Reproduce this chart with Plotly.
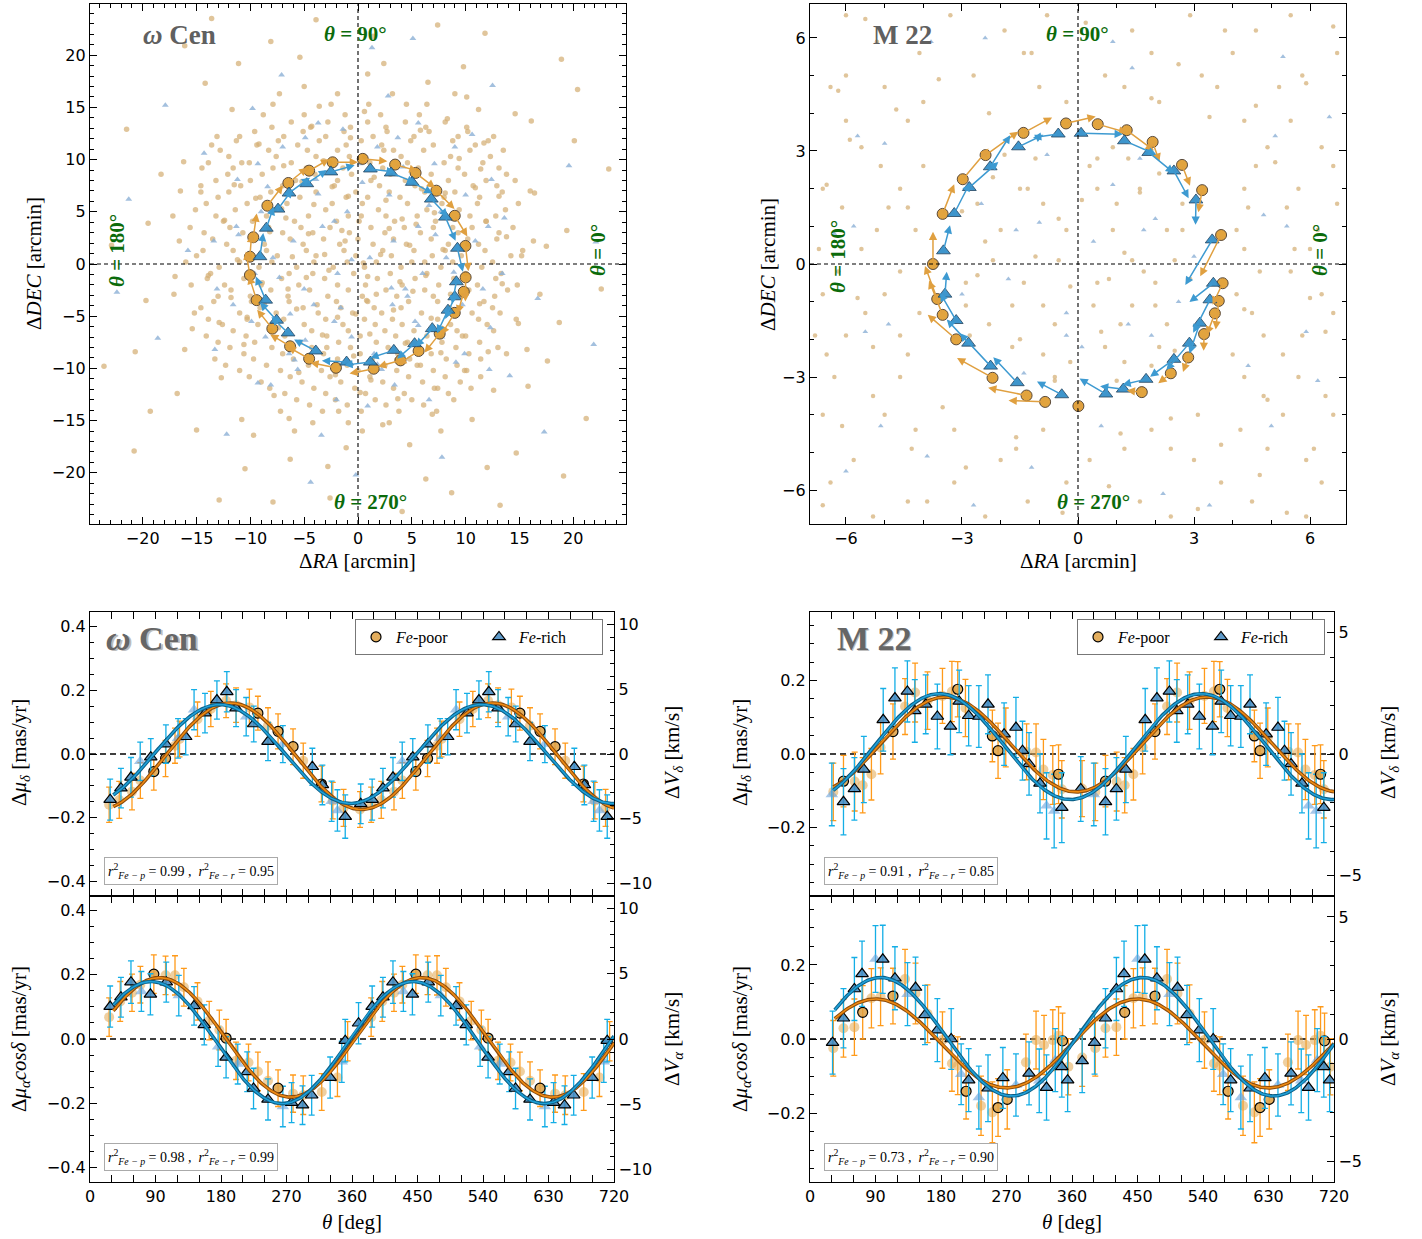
import numpy as np
import plotly.graph_objects as go

W, H = 1422, 1239

# ======================= TOP PANELS: ring bins (arcmin) =======================
wcen_poor_x = [0.44, 3.45, 5.35, 7.28, 8.99, 9.98, 10.0, 9.83, 8.99, 7.59, 5.63, 3.95, 1.46, -2.05, -4.54, -6.31, -7.96, -9.42, -10.04, -10.04, -9.73, -8.42, -6.47, -4.54, -2.36]
wcen_poor_y = [10.07, 9.52, 8.72, 7.02, 4.62, 1.73, -1.28, -2.66, -4.68, -6.67, -8.33, -9.23, -10.03, -9.94, -9.07, -7.88, -6.19, -3.46, -1.06, 0.70, 2.56, 5.58, 7.76, 8.94, 9.74]
wcen_poor_vt = [0.17, 0.16, 0.17, 0.18, 0.17, 0.18, 0.17, 0.16, 0.18, 0.17, 0.17, 0.16, 0.17, 0.18, 0.17, 0.16, 0.17, 0.18, 0.17, 0.16, 0.17, 0.18, 0.17, 0.16, 0.17]
wcen_poor_vr = [-0.01, 0.01, -0.02, 0.0, 0.01, -0.01, 0.02, 0.0, -0.01, 0.01, 0.0, -0.02, 0.01, 0.0, -0.01, 0.02, 0.0, -0.01, 0.01, 0.0, 0.02, -0.01, 0.0, 0.01, -0.04]
wcen_rich_x = [1.15, 3.08, 5.04, 6.81, 8.12, 9.24, 9.14, 8.99, 8.36, 6.9, 5.26, 3.33, 1.15, -1.06, -3.92, -6.5, -7.56, -8.58, -9.11, -8.52, -7.43, -6.41, -4.76, -2.52]
wcen_rich_y = [9.1, 8.72, 7.82, 6.22, 4.49, 1.51, -1.70, -3.14, -4.42, -6.19, -7.63, -8.27, -9.39, -9.39, -8.33, -6.6, -5.38, -3.46, 0.70, 3.43, 5.26, 6.8, 7.69, 8.82]
wcen_rich_vt = [0.17, 0.18, 0.16, 0.17, 0.18, 0.17, 0.16, 0.17, 0.18, 0.17, 0.16, 0.17, 0.18, 0.17, 0.17, 0.16, 0.17, 0.18, 0.17, 0.16, 0.17, 0.18, 0.17, 0.17]
wcen_rich_vr = [0.0, -0.01, 0.01, 0.0, -0.02, 0.01, 0.0, -0.01, 0.01, 0.0, 0.02, -0.01, 0.0, 0.01, -0.01, 0.0, 0.02, 0.0, -0.01, 0.01, 0.0, -0.02, 0.01, 0.0]

m22_poor_x = [-0.31, 0.51, 1.26, 1.93, 2.69, 3.21, 3.70, 3.74, 3.64, 3.54, 3.26, 2.85, 2.40, 1.65, 0.01, -0.85, -1.33, -2.21, -3.15, -3.5, -3.64, -3.75, -3.5, -2.98, -2.39, -1.41]
m22_poor_y = [3.73, 3.71, 3.55, 3.24, 2.63, 1.96, 0.77, -0.51, -0.98, -1.31, -1.86, -2.48, -2.90, -3.40, -3.77, -3.66, -3.49, -3.02, -2.0, -1.35, -0.93, 0.0, 1.33, 2.25, 2.89, 3.48]
m22_poor_vt = [0.13, 0.13, 0.14, 0.07, 0.09, 0.075, 0.16, 0.10, 0.125, 0.10, 0.065, 0.063, 0.07, 0.055, 0.02, 0.155, 0.167, 0.175, 0.158, 0.163, 0.155, 0.143, 0.14, 0.175, 0.175, 0.14]
m22_poor_vr = [0.02, -0.02, -0.045, -0.06, -0.04, -0.065, -0.125, -0.03, 0.02, 0.0, 0.035, 0.025, 0.0, -0.035, 0.0, 0.03, 0.027, 0.02, 0.045, 0.0, 0.015, 0.0, 0.0, -0.007, -0.01, 0.017]
m22_rich_x = [-0.51, 0.08, 1.20, 1.83, 2.48, 3.05, 3.47, 3.50, 3.41, 3.15, 2.88, 2.48, 1.76, 1.17, 0.72, -0.42, -1.57, -2.26, -2.83, -3.15, -3.44, -3.48, -3.2, -2.81, -2.27, -1.54]
m22_rich_y = [3.45, 3.47, 3.27, 2.96, 2.47, 1.70, 0.64, -0.51, -0.95, -1.57, -2.10, -2.53, -3.06, -3.32, -3.45, -3.47, -3.15, -2.71, -2.10, -1.50, -0.80, 0.35, 1.34, 2.03, 2.58, 3.11]
m22_rich_vt = [-0.11, 0.18, 0.15, 0.14, 0.13, 0.095, 0.175, 0.097, 0.16, 0.14, 0.155, 0.127, 0.10, 0.09, 0.097, 0.113, 0.143, 0.195, 0.14, 0.14, 0.095, 0.115, 0.15, 0.165, 0.157, 0.12]
m22_rich_vr = [0.0, 0.0, -0.01, -0.02, -0.04, -0.055, -0.15, -0.09, -0.03, 0.02, -0.01, -0.017, -0.03, -0.045, -0.09, -0.045, -0.055, -0.027, 0.013, 0.01, -0.03, -0.017, -0.01, -0.035, 0.048, 0.0]

ARROW_SCALE_WCEN = 13.5   # arcmin per mas/yr
ARROW_SCALE_M22 = 6.0

# background member stars (approximate positions)
wcen_bg_poor = [(-8.2,3.1),(-6.5,-2.4),(-4.1,5.7),(-3.3,-6.8),(-1.2,2.2),(0.8,-3.5),(2.6,6.1),(3.9,-1.7),(5.4,3.8),(6.8,-5.2),
    (7.9,1.4),(-7.4,-6.1),(-5.2,7.9),(-2.7,-0.6),(1.5,8.3),(4.4,-7.6),(8.6,-2.9),(-0.4,-8.8),(2.1,0.9),(-6.1,0.7),
    (5.9,7.2),(-3.8,-3.9),(0.3,4.6),(7.1,4.9),(-8.9,-1.8),(-1.9,-5.1),(3.3,-4.4),(6.2,0.2),(-4.6,2.9),(1.1,-6.7),
    (-2.4,7.4),(4.8,1.8),(-7.1,5.3),(8.1,6.8),(0.9,-1.2),(-5.7,-4.3),(2.9,3.4),(-0.9,6.5),(5.1,-2.6),(-3.1,0.9),
    (-9.5,6.3),(9.7,-6.9),(-6.9,9.4),(7.7,-8.5),(-2.1,-10.6),(2.4,10.9),(-10.3,-5.1),(10.2,1.9),(-0.2,-4.8),(4.1,4.3),
    (-4.8,-1.3),(1.7,-2.9),(-1.5,3.2),(6.3,-1.1),(-6.7,4.4),(3.6,-9.2),(-3.2,9.9),(8.8,3.5),(-8.7,-3.9),(0.5,0.1),
    (-2.9,-8.0),(5.5,-9.7),(-5.5,-10.4),(9.9,-10.2),(-11.5,7.6),(11.4,9.1),(-12.9,-5.6),(13.1,6.5),(-0.8,10.3),(1.2,-11.1),
    (-12.4,4.2),(11.3,-3.8),(-10.6,-7.7),(9.4,10.1),(-4.3,13.2),(3.7,-12.9),(13.8,2.6),(-13.9,-1.1),(0.6,14.6),(-1.8,-14.1),
    (12.1,-8.4),(-9.2,11.5),(7.4,-11.9),(-14.6,6.9),(14.9,-5.7),(5.8,12.8),(-7.8,-12.6),(10.9,7.3),(-11.8,-3.2),(2.3,-15.4),
    (-3.6,15.1),(15.2,0.8),(-15.4,-6.2),(8.3,13.9),(-10.1,9.7),(12.6,-12.1),(-6.4,-14.8),(4.5,15.3),(11.7,11.6),(-13.1,12.2),
    (13.4,-1.9),(-12.7,-10.9),(0.2,-12.3),(-0.7,12.1),(11.9,4.1),(-11.2,0.4),(6.9,-14.4),(-8.8,14.3),
    (-18.3,8.6),(17.6,-9.3),(-16.8,-12.4),(16.1,13.7),(-5.4,19.8),(6.3,-20.6),(19.4,3.2),(-19.7,-3.5),(1.4,21.8),(-2.6,-22.4),
    (-21.5,12.9),(21.2,-14.8),(9.8,18.9),(-10.5,-19.6),(-14.2,17.3),(14.7,-18.1),(-3.9,23.4),(4.1,-23.7),(-20.8,-17.9),(18.9,19.6),
    (22.6,-2.4),(-22.9,1.8),(11.8,22.1),(-12.9,-22.6),(16.4,6.8),(-17.2,4.6),(-8.1,21.3),(8.7,-21.9),(23.3,9.1),(-23.6,-9.8),
    (0.9,18.2),(-1.1,-17.6),(-16.1,20.9),(19.1,-20.3),(-6.3,-18.7),(6.5,17.4),(20.4,16.7),(-19.3,-14.1),(13.2,-23.1),(-13.6,23.5),
    (-17.0,-1.2),(17.5,1.7),(-16.2,9.8),(15.8,-11.7),(-5.0,17.0),(4.8,-17.3),(-9.7,-16.4),(10.1,16.0),(-19.5,3.9),(18.7,-5.6),
    (2.4,19.2),(-2.8,-19.4),(-15.0,-15.9),(14.6,14.4),(-20.7,-8.4),(20.1,11.8),(-7.9,-22.8),(7.4,22.9),(-11.1,19.2),(12.0,-19.5)]
# denser core, read row by row (y, list of x)
wcen_bg_poor_rows = [
    (13.6, [-6.2, -2.8, 0.9, 4.4, 8.1]), (12.7, [-9.6, -5.1, -1.3, 2.7, 6.6, 10.2]),
    (11.8, [-11.3, -7.4, -3.6, 0.3, 4.9, 8.8, 12.1]), (10.9, [-12.8, -8.3, -4.7, -1.9, 3.3, 6.1, 10.4, 13.5]),
    (9.7, [-13.9, -10.8, -6.2, -2.6, 1.1, 4.6, 8.0, 11.6]), (8.6, [-12.1, -8.9, -4.0, -0.6, 3.0, 6.8, 9.9, 13.8]),
    (7.5, [-14.6, -10.9, -7.0, -2.2, 2.0, 5.3, 10.7, 12.9]), (6.4, [-13.0, -9.1, -5.4, -1.1, 0.9, 3.9, 8.0, 11.3]),
    (5.2, [-15.1, -11.4, -7.8, -3.0, 1.9, 6.4, 9.4, 13.7]), (4.1, [-12.5, -9.8, -5.9, -2.0, 0.1, 3.4, 7.2, 11.9]),
    (3.0, [-14.3, -10.7, -7.0, -4.2, -0.8, 2.5, 5.8, 9.3, 13.1]), (1.9, [-12.2, -8.7, -5.1, -1.7, 1.4, 4.5, 8.4, 11.2]),
    (0.8, [-15.0, -10.1, -7.5, -3.9, -0.2, 3.1, 6.9, 9.6, 14.2]), (-0.3, [-12.9, -9.2, -5.7, -2.3, 0.6, 4.0, 7.7, 11.5]),
    (-1.4, [-14.0, -10.6, -7.1, -3.1, 1.8, 5.3, 8.9, 12.8]), (-2.5, [-11.8, -8.1, -4.5, -0.9, 2.6, 6.2, 10.3, 13.9]),
    (-3.6, [-13.4, -9.9, -6.4, -2.0, 0.9, 4.7, 7.4, 11.7]), (-4.7, [-15.2, -11.0, -7.6, -3.7, -0.5, 2.2, 5.9, 10.6, 13.2]),
    (-5.8, [-12.6, -9.3, -5.0, -1.4, 1.6, 4.1, 8.6, 12.0]), (-6.9, [-14.1, -10.4, -6.8, -2.9, 0.2, 3.5, 6.4, 10.0]),
    (-8.0, [-11.9, -8.0, -4.3, -0.7, 2.8, 5.6, 9.1, 13.0]), (-9.1, [-13.3, -9.7, -6.0, -1.9, 1.3, 4.8, 8.2, 11.4]),
    (-10.2, [-11.0, -7.2, -3.4, 0.0, 3.6, 7.0, 10.1]), (-11.3, [-9.0, -5.2, -1.6, 2.3, 6.0, 9.5]),
    (-12.4, [-6.8, -3.0, 0.7, 4.3, 8.4]), (-13.5, [-4.5, -1.0, 2.6, 6.1]),
    (16.3, [-7.3, -1.9, 3.2, 9.0]), (-16.0, [-5.9, 0.4, 7.7]), (14.8, [-11.7, 11.2]), (-14.9, [-10.8, 10.6]),
    (2.2, [-16.6, 16.3]), (-2.9, [-17.1, 16.9]), (7.0, [-16.5, 16.0]), (-8.2, [-16.1, 15.7]),
    (13.1, [-8.0, -4.4, -0.7, 2.6, 6.3, 10.1]), (12.2, [-11.0, -6.9, -3.0, 1.4, 5.2, 9.3, 12.6]),
    (11.4, [-13.6, -9.4, -5.6, -1.1, 2.2, 7.0, 10.9]), (10.3, [-12.0, -7.6, -3.9, 0.6, 4.0, 8.6, 12.3]),
    (9.2, [-14.5, -11.6, -7.9, -4.8, -1.4, 2.3, 5.6, 9.3, 13.1]), (8.0, [-13.2, -10.0, -5.8, -1.9, 1.2, 4.4, 8.4, 11.9, 14.6]),
    (6.9, [-12.0, -8.1, -3.9, -0.2, 2.9, 6.2, 9.0, 13.4]), (5.8, [-14.1, -10.3, -6.6, -2.4, 0.4, 4.6, 7.8, 11.1, 14.9]),
    (4.6, [-13.2, -8.5, -4.6, -0.9, 2.6, 5.5, 10.4, 12.8]), (3.5, [-15.6, -11.9, -8.3, -5.3, -2.6, 1.2, 4.3, 7.0, 10.6, 14.4]),
    (2.4, [-13.5, -9.9, -6.3, -3.2, 0.0, 3.3, 6.8, 10.2, 12.9]), (1.3, [-14.4, -11.6, -8.5, -4.8, -1.3, 2.3, 5.2, 8.1, 11.8, 15.3]),
    (0.2, [-16.0, -11.0, -8.0, -4.1, -1.0, 1.7, 5.0, 8.8, 12.5]), (-0.9, [-13.7, -10.0, -6.4, -4.2, -0.4, 3.0, 6.4, 10.0, 13.3]),
    (-2.0, [-15.5, -12.4, -9.0, -5.5, -1.9, 0.7, 4.1, 7.5, 11.1, 14.8]), (-3.1, [-13.0, -10.0, -6.5, -2.8, 0.4, 3.6, 7.0, 9.6, 12.7]),
    (-4.2, [-14.6, -9.1, -5.1, -1.6, 1.5, 4.0, 8.5, 12.5]), (-5.3, [-13.9, -10.3, -6.9, -3.0, 0.6, 3.2, 7.4, 11.2, 14.7]),
    (-6.4, [-11.6, -8.1, -4.3, -0.9, 2.5, 5.2, 9.2, 12.6]), (-7.5, [-13.0, -9.6, -5.4, -1.8, 1.7, 4.6, 7.8, 11.3]),
    (-8.6, [-10.6, -7.0, -3.2, 0.2, 3.7, 6.8, 10.3, 13.8]), (-9.7, [-12.3, -8.5, -4.6, -1.0, 2.5, 5.8, 9.2]),
    (-10.8, [-10.1, -6.3, -2.6, 1.1, 4.7, 8.1, 11.4]), (-11.9, [-8.2, -4.1, -0.3, 3.3, 7.1, 10.5]),
    (-13.0, [-5.7, -2.1, 1.6, 5.0, 8.9]), (-14.1, [-7.2, -3.3, 0.3, 3.8, 7.3]),
    (14.3, [-5.0, -1.2, 2.1, 5.7]), (15.3, [-7.9, -2.5, 1.0, 6.4]), (-15.2, [-4.2, -0.9, 2.9])]
wcen_bg_rich = [(-7.3,-1.3),(5.6,-5.9),(-2.2,4.1),(3.1,-2.3),(-4.9,-7.3),(6.6,5.6),(-8.4,7.4),(1.8,-9.6),(-0.6,0.4),(8.9,-0.8),
    (-5.9,-9.2),(4.2,9.3),(-11.1,2.8),(12.3,-6.1),(-1.4,12.9),(0.9,-13.6),(-13.3,-8.2),(10.6,12.4),(-9.8,14.9),(14.1,-10.7),
    (-15.8,1.3),(16.7,-3.3),(2.8,16.1),(-3.4,-16.4),(-18.6,-7.1),(19.6,9.4),(-7.1,18.1),(7.8,-18.5),(-21.3,6.2),(21.9,-7.7),
    (-0.2,-20.2),(1.3,20.7),(-12.2,-16.3),(12.5,17.1),(-17.9,15.2),(17.3,-16.1),(4.6,-3.1),(-3.7,6.7),(7.2,2.8),(-6.3,-4.8),
    (0.4,7.8),(-1.6,-4.2),(9.1,-9.4),(-9.3,-11.4),(13.6,4.4),(-14.3,10.6),(-4.4,-20.9),(5.1,21.6),(22.1,2.1),(-22.4,-2.7)]
wcen_bg_rich_rows = [
    (13.5, [-3.7, 5.6]), (11.2, [-7.0, 1.8, 9.0]), (8.1, [-11.2, -3.9, 5.0, 12.4]), (5.0, [-9.0, -1.0, 7.7]),
    (2.2, [-13.4, -6.0, 3.3, 10.9]), (-0.9, [-9.6, -1.9, 6.0, 13.4]), (-3.9, [-11.6, -4.1, 3.2, 9.7]),
    (-7.0, [-8.6, -0.6, 7.8]), (-10.1, [-5.6, 2.2, 12.2]), (-13.0, [-2.0, 6.6]),
    (12.1, [-4.9, 3.7]), (9.6, [-9.3, 0.2, 7.1]), (6.6, [-6.6, 2.9, 10.0]), (3.6, [-11.3, -3.3, 5.6, 12.1]),
    (0.6, [-7.9, 1.1, 8.2]), (-2.4, [-13.1, -5.0, 4.4, 11.6]), (-5.5, [-9.9, -2.2, 5.3]), (-8.6, [-6.4, 1.5, 9.9]),
    (-11.6, [-8.1, 3.4])]

m22_bg_poor = [(-0.5,1.2),(0.8,-0.4),(1.6,1.9),(-1.7,-1.1),(2.3,-1.6),(-2.4,0.6),(0.3,2.6),(-0.9,-2.4),(1.2,0.3),(-1.3,2.0),
    (2.7,0.9),(-2.8,-1.9),(0.6,-1.8),(-0.2,-0.6),(1.9,-2.7),(-1.9,2.9),(2.1,2.4),(-2.6,-0.3),(0.1,1.7),(-1.1,0.2),
    (1.4,-1.1),(-0.6,-3.0),(2.9,-0.4),(-3.0,1.4),(0.9,3.1),(-1.5,-2.0),(1.7,-0.2),(-0.3,0.9),(2.5,-2.3),(-2.2,2.3),
    (-5.2,5.9),(4.7,-5.6),(-6.1,-4.3),(5.9,4.8),(-4.4,-6.3),(3.8,6.2),(-6.5,2.1),(6.4,-1.8),(-1.2,5.6),(0.8,-5.9),
    (5.1,2.7),(-5.3,-2.2),(2.6,5.3),(-2.9,-5.4),(4.9,-3.6),(-4.7,4.1),(-3.3,6.6),(3.1,-6.5),(6.6,6.3),(-6.6,-6.4),
    (1.9,4.4),(-1.6,-4.6),(4.3,-1.2),(-4.4,1.5),(5.6,0.4),(-5.7,-0.9),(-3.6,4.9),(3.7,-4.8),(0.2,6.4),(-0.4,-6.6),
    (6.1,-4.9),(-6.2,4.6),(2.4,-4.1),(-2.3,4.0),(4.6,4.2),(-4.2,-4.4),(-6.8,-1.9),(6.7,1.6),(1.1,-4.5),(-1.0,4.7),
    (5.4,-6.6),(-5.5,6.5),(3.4,3.9),(-3.5,-3.8),(6.0,-0.9),(-5.9,3.3)]
m22_bg_poor_rows = [
    (6.2, [-4.8, -1.9, 1.4, 4.6]), (5.0, [-6.0, -2.7, 0.7, 3.2, 5.8]), (4.3, [-4.0, -0.3, 2.1]),
    (3.1, [-5.6, 4.9, 6.3]), (2.0, [-6.6, -4.6, -1.5, 0.5, 1.6, 4.3, 5.7]), (0.9, [-5.2, -4.2, -2.0, 0.9, 2.3, 4.1, 6.2]),
    (-0.2, [-6.2, -4.6, 4.7, 5.5]), (-0.5, [-2.9, -1.4, 0.5, 2.0]), (-1.3, [-5.5, -4.1, 4.5, 6.6]),
    (-1.6, [-2.3, -0.6, 1.1]), (-2.4, [-6.5, -4.4, 4.0, 5.3]), (-2.6, [-0.2, 1.2]), (-3.5, [-5.3, 4.8, 6.4]),
    (-4.4, [-3.2, -0.9, 1.9, 4.2]), (-5.2, [-5.8, -2.0, 0.3, 3.0, 5.9]), (-6.3, [-3.9, -1.3, 1.6, 4.5]),
    (6.6, [-6.0, -0.8, 2.9, 5.5]), (5.6, [-4.1, -1.4, 1.9, 4.0, 6.7]), (4.7, [-6.4, -5.0, 1.2, 3.6, 5.2]),
    (3.8, [-6.0, -4.4, 4.3, 5.5]), (2.6, [-5.1, -4.0, 4.6, 6.6]), (1.5, [-6.1, -4.9, 4.4, 5.4]),
    (0.4, [-6.7, -5.6, 4.3, 6.0]), (-0.8, [-6.6, -5.0, 4.1, 6.3]), (-1.9, [-6.0, -4.6, 4.8, 5.8]),
    (-3.0, [-6.3, -4.6, 4.3, 5.7]), (-4.0, [-6.6, -5.0, 3.1, 5.3, 6.6]), (-4.9, [-4.3, -1.6, 1.2, 2.4, 4.9]),
    (-5.8, [-6.4, -3.2, -0.3, 3.7, 6.3]), (-6.7, [-5.3, -2.4, 2.4, 5.9]),
    (1.6, [-2.6, -0.9, 1.0, 2.7]), (0.1, [-2.2, -0.5, 1.4, 2.5]), (-1.1, [-2.9, -0.9, 0.4, 2.0]),
    (-2.2, [-1.7, 0.7, 2.1]), (2.8, [-1.1, 0.5, 1.3]), (-3.1, [-0.6, 1.0])]
m22_bg_rich = [(0.4,0.6),(-1.0,1.1),(1.3,-1.6),(-1.8,-0.4),(2.0,1.2),(-0.3,-1.3),(0.9,2.1),(-2.1,-2.6),(2.6,-1.0),(-2.5,1.6),
    (0.1,-2.2),(-0.8,2.9),(1.6,2.8),(-1.4,-2.9),(3.0,0.2),(-3.0,-0.8),(-5.0,3.2),(4.4,-2.7),(-3.9,-5.1),(5.3,5.5),
    (-6.3,0.8),(6.2,-3.1),(2.2,-6.1),(-2.4,6.0),(4.8,1.3),(-4.9,-1.6),(1.4,5.2),(-1.2,-5.4),(-6.0,-5.5),(6.5,3.9)]
m22_bg_rich_rows = [(5.9, [-3.8, 0.9]), (3.4, [-5.7, 5.1]), (1.0, [-5.8, 5.4]), (-1.8, [-5.5, 5.9]),
    (-4.3, [-5.1, 0.6, 5.0]), (-6.4, [-2.7, 3.4]), (0.9, [-1.6, 1.7]), (-1.9, [-0.3, 1.9])]

# ======================= BOTTOM PANELS: binned proper motions vs theta =======================
# omega Cen, d mu_delta
wd_pd_t = [87.7, 103.8, 230.7, 258.4, 279.0, 318.0]
wd_pd_v = [-0.055, -0.014, 0.128, 0.071, 0.023, -0.094]
wd_pd_e = [0.058, 0.057, 0.053, 0.055, 0.056, 0.056]
wd_pl_t = [26.3, 40.2, 57.7, 69.2, 116.8, 123.0, 147.7, 166.0, 187.0, 200.7, 219.0, 244.6, 293.0, 333.6, 348.4, 371.0]
wd_pl_v = [-0.159, -0.144, -0.118, -0.083, 0.026, 0.047, 0.109, 0.141, 0.167, 0.153, 0.146, 0.089, -0.021, -0.146, -0.169, -0.174]
wd_pl_e = [0.055, 0.058, 0.057, 0.056, 0.055, 0.056, 0.054, 0.055, 0.053, 0.054, 0.057, 0.056, 0.055, 0.057, 0.058, 0.056]
wd_rd_t = [27.7, 42.5, 56.3, 83.5, 104.3, 131.5, 158.0, 174.4, 188.0, 200.7, 225.0, 244.6, 305.5, 319.3, 350.7, 372.0]
wd_rd_v = [-0.143, -0.107, -0.073, -0.010, 0.031, 0.054, 0.128, 0.169, 0.195, 0.144, 0.094, 0.039, -0.040, -0.097, -0.196, -0.156]
wd_rd_e = [0.064, 0.062, 0.062, 0.058, 0.060, 0.057, 0.062, 0.060, 0.063, 0.058, 0.056, 0.060, 0.058, 0.062, 0.068, 0.062]
wd_rl_t = [69.0, 121.0, 143.0, 214.6, 265.0, 332.0, 340.0]
wd_rl_v = [-0.023, 0.049, 0.139, 0.117, 0.031, -0.148, -0.177]
wd_rl_e = [0.060, 0.062, 0.063, 0.060, 0.058, 0.063, 0.065]
wd_fit_poor = [-0.007, 0.167, 193.0]   # offset, amplitude, phase of maximum
wd_fit_rich = [0.000, 0.155, 178.0]

# omega Cen, d mu_alpha cos(delta)
wa_pd_t = [87.7, 187.0, 258.4]
wa_pd_v = [0.202, 0.003, -0.153]
wa_pd_e = [0.060, 0.058, 0.057]
wa_pl_t = [26.3, 41.5, 57.7, 69.2, 103.8, 116.8, 129.0, 147.7, 163.8, 177.7, 200.7, 217.8, 230.7, 244.6, 279.0, 293.0, 318.4, 340.0, 354.0]
wa_pl_v = [0.068, 0.117, 0.144, 0.169, 0.198, 0.198, 0.161, 0.117, 0.057, 0.028, -0.068, -0.073, -0.101, -0.130, -0.170, -0.175, -0.165, -0.120, -0.007]
wa_pl_e = [0.060, 0.062, 0.058, 0.057, 0.060, 0.061, 0.059, 0.058, 0.060, 0.062, 0.058, 0.057, 0.060, 0.059, 0.058, 0.060, 0.057, 0.059, 0.061]
wa_rd_t = [27.7, 42.5, 56.3, 83.0, 104.8, 143.0, 157.0, 187.0, 216.0, 224.7, 244.6, 277.0, 292.0, 304.6, 330.0, 350.7, 369.0]
wa_rd_v = [0.101, 0.130, 0.177, 0.139, 0.177, 0.103, 0.044, -0.057, -0.102, -0.154, -0.188, -0.198, -0.206, -0.175, -0.120, -0.005, 0.049]
wa_rd_e = [0.064, 0.062, 0.066, 0.064, 0.062, 0.060, 0.062, 0.064, 0.062, 0.063, 0.064, 0.062, 0.060, 0.062, 0.064, 0.066, 0.064]
wa_rl_t = [70.6, 122.0, 176.0, 203.0, 265.0, 346.0]
wa_rl_v = [0.148, 0.135, -0.024, -0.078, -0.210, -0.071]
wa_rl_e = [0.062, 0.063, 0.061, 0.062, 0.063, 0.064]
wa_fit_poor = [0.005, 0.186, 95.5]
wa_fit_rich = [-0.011, 0.190, 84.0]

# M22, d mu_delta
md_pd_t = [46.0, 114.0, 203.0, 250.6, 258.4, 341.5]
md_pd_v = [-0.074, 0.061, 0.176, 0.049, 0.009, -0.055]
md_pd_e = [0.070, 0.075, 0.075, 0.070, 0.075, 0.080]
md_pl_t = [32.0, 61.4, 72.4, 84.4, 97.0, 130.6, 144.4, 161.5, 182.0, 195.0, 213.6, 269.0, 297.6, 310.6, 320.7, 333.6, 346.0, 373.8]
md_pl_v = [-0.103, -0.075, -0.085, -0.055, 0.018, 0.129, 0.167, 0.145, 0.158, 0.170, 0.125, 0.045, 0.006, 0.004, -0.042, -0.057, -0.096, -0.094]
md_pl_e = [0.078, 0.080, 0.075, 0.070, 0.072, 0.076, 0.080, 0.078, 0.075, 0.082, 0.078, 0.080, 0.076, 0.078, 0.082, 0.080, 0.078, 0.076]
md_rd_t = [46.0, 61.0, 74.0, 100.6, 116.7, 133.8, 144.0, 159.0, 175.0, 193.0, 205.0, 218.0, 232.0, 244.6, 266.7, 283.0, 292.0, 301.0, 316.0, 346.0, 372.0]
md_rd_v = [-0.130, -0.095, -0.042, 0.093, 0.152, 0.170, 0.117, 0.135, 0.102, 0.075, 0.143, 0.104, 0.102, 0.135, 0.054, 0.072, 0.009, -0.027, -0.080, -0.146, -0.095]
md_rd_e = [0.090, 0.085, 0.090, 0.085, 0.082, 0.083, 0.085, 0.080, 0.088, 0.077, 0.085, 0.082, 0.084, 0.080, 0.085, 0.082, 0.080, 0.085, 0.080, 0.095, 0.088]
md_rl_t = [30.0, 325.0, 335.5]
md_rl_v = [-0.110, -0.141, -0.155]
md_rl_e = [0.085, 0.090, 0.100]
md_fit_poor = [0.026, 0.129, 186.0]
md_fit_rich = [0.020, 0.144, 177.7]

# M22, d mu_alpha cos(delta)
ma_pd_t = [72.4, 114.0, 214.5, 258.4, 271.0, 347.0]
ma_pd_v = [0.072, 0.116, -0.141, -0.185, -0.163, -0.005]
ma_pd_e = [0.072, 0.075, 0.075, 0.078, 0.080, 0.075]
ma_pl_t = [32.0, 46.0, 61.0, 84.4, 97.0, 130.6, 145.0, 161.5, 182.0, 195.0, 203.0, 235.0, 250.6, 296.7, 310.6, 321.6, 333.6, 341.5, 355.0, 374.0]
ma_pl_v = [-0.025, 0.029, 0.032, 0.110, 0.114, 0.162, 0.123, 0.068, -0.003, -0.066, -0.072, -0.180, -0.198, -0.063, -0.003, -0.016, -0.003, 0.009, -0.075, -0.050]
ma_pl_e = [0.075, 0.078, 0.076, 0.080, 0.078, 0.080, 0.082, 0.078, 0.076, 0.075, 0.078, 0.080, 0.082, 0.076, 0.078, 0.080, 0.082, 0.078, 0.076, 0.078]
ma_rd_t = [31.0, 46.0, 61.0, 71.5, 100.0, 116.7, 145.0, 158.0, 175.0, 194.0, 218.0, 244.6, 265.0, 301.0, 325.0, 346.0, 354.0, 374.0]
ma_rd_v = [-0.010, 0.056, 0.135, 0.176, 0.215, 0.164, 0.139, 0.065, 0.024, 0.000, -0.111, -0.133, -0.105, -0.093, -0.131, -0.075, -0.111, -0.059]
ma_rd_e = [0.085, 0.080, 0.085, 0.088, 0.092, 0.085, 0.082, 0.080, 0.085, 0.082, 0.085, 0.090, 0.082, 0.085, 0.088, 0.082, 0.085, 0.086]
ma_rl_t = [90.0, 134.0, 207.7, 232.0, 283.0, 315.0, 337.0]
ma_rl_v = [0.216, 0.121, -0.095, -0.158, -0.124, -0.113, -0.057]
ma_rl_e = [0.090, 0.085, 0.082, 0.085, 0.084, 0.086, 0.085]
ma_fit_poor = [-0.012, 0.120, 90.0]
ma_fit_rich = [0.006, 0.160, 97.0]

fit_start = [32.0, 32.0, 32.0, 34.0]
r2_values = [(0.99, 0.95), (0.98, 0.99), (0.91, 0.85), (0.73, 0.90)]

# ======================= styling =======================
SERIF = "Liberation Serif"
SANS = "DejaVu Sans"
C_POOR_DARK = "rgba(222,160,66,0.85)"
C_POOR_LIGHT = "rgba(226,168,80,0.55)"
C_RICH_DARK = "rgba(66,135,190,0.85)"
C_RICH_LIGHT = "rgba(105,162,218,0.6)"
C_ERR_POOR = "#FF9A1A"
C_ERR_RICH = "#14AEE6"

fig = go.Figure()


def py(b):
    return 1 - b / H


def expand(pairs, rows):
    xs = [p[0] for p in pairs]
    ys = [p[1] for p in pairs]
    for yv, xl in rows:
        xs += list(xl)
        ys += [yv] * len(xl)
    return xs, ys


# ---------------- top panels ----------------
def add_ring_panel(xa, ya, bg_poor, bg_rich, px_, py_, pvt, pvr, rx, ry, rvt, rvr, scale, msize, dsize):
    bx, by = bg_poor
    fig.add_trace(go.Scatter(x=bx, y=by, mode="markers", xaxis=xa, yaxis=ya, showlegend=False, hoverinfo="skip",
                             marker=dict(size=dsize, color="rgba(212,174,116,0.72)", line=dict(width=0))))
    bx, by = bg_rich
    fig.add_trace(go.Scatter(x=bx, y=by, mode="markers", xaxis=xa, yaxis=ya, showlegend=False, hoverinfo="skip",
                             marker=dict(size=dsize + 0.5, symbol="triangle-up", color="rgba(140,176,214,0.8)",
                                         line=dict(width=0))))
    fig.add_trace(go.Scatter(x=px_, y=py_, mode="markers", xaxis=xa, yaxis=ya, showlegend=False,
                             marker=dict(size=msize, color="rgba(224,156,46,0.92)", line=dict(width=1, color="#5a4a3a"))))
    fig.add_trace(go.Scatter(x=rx, y=ry, mode="markers", xaxis=xa, yaxis=ya, showlegend=False,
                             marker=dict(size=msize + 1, symbol="triangle-up", color="rgba(46,140,200,0.92)",
                                         line=dict(width=0.8, color="#24445e"))))
    for xs, ys, vt, vr, col in [(px_, py_, pvt, pvr, "#E0A040"), (rx, ry, rvt, rvr, "#3D9AD1")]:
        for x, y, t, r in zip(xs, ys, vt, vr):
            rad = np.hypot(x, y)
            ux, uy = x / rad, y / rad
            tx, ty = uy, -ux
            dx = scale * (t * tx + r * ux)
            dy = scale * (t * ty + r * uy)
            fig.add_annotation(x=x + dx, y=y + dy, ax=x, ay=y, xref=xa, yref=ya, axref=xa, ayref=ya,
                               showarrow=True, arrowhead=2, arrowsize=1.1, arrowwidth=1.5, arrowcolor=col, text="")
    fig.add_shape(type="line", xref=xa + " domain", yref=ya, x0=0, x1=1, y0=0, y1=0,
                  line=dict(color="black", width=1.1, dash="4px,3px"))
    fig.add_shape(type="line", xref=xa, yref=ya + " domain", x0=0, x1=0, y0=0, y1=1,
                  line=dict(color="black", width=1.1, dash="4px,3px"))


add_ring_panel("x", "y", expand(wcen_bg_poor, wcen_bg_poor_rows), expand(wcen_bg_rich, wcen_bg_rich_rows),
               wcen_poor_x, wcen_poor_y, wcen_poor_vt, wcen_poor_vr,
               wcen_rich_x, wcen_rich_y, wcen_rich_vt, wcen_rich_vr, ARROW_SCALE_WCEN, 11, 5.5)
add_ring_panel("x2", "y2", expand(m22_bg_poor, m22_bg_poor_rows), expand(m22_bg_rich, m22_bg_rich_rows),
               m22_poor_x, m22_poor_y, m22_poor_vt, m22_poor_vr,
               m22_rich_x, m22_rich_y, m22_rich_vt, m22_rich_vr, ARROW_SCALE_M22, 11, 4.5)


# ---------------- bottom panels ----------------
def rep_t(t):
    t = np.asarray(t, float)
    return np.concatenate([t, t + 360.0])


def rep_v(v):
    v = np.asarray(v, float)
    return np.concatenate([v, v])


def add_pm_panel(xa, ya, ya2, pd, pl, rd, rl, fitp, fitr, start, legend_name=None):
    def pts(data, symbol, fill, edge, errcol, size, name=None, show=False):
        t, v, e = data
        fig.add_trace(go.Scatter(
            x=rep_t(t), y=rep_v(v), mode="markers", xaxis=xa, yaxis=ya,
            error_y=dict(type="data", array=rep_v(e), color=errcol, thickness=1.3, width=3),
            marker=dict(symbol=symbol, size=size, color=fill,
                        line=dict(width=1.2 if edge else 0, color="black")),
            name=name, showlegend=show, legend=legend_name if show else None))

    pts(pl, "circle", C_POOR_LIGHT, False, C_ERR_POOR, 10)
    pts(rl, "triangle-up", C_RICH_LIGHT, False, C_ERR_RICH, 11)
    pts(pd, "circle", C_POOR_DARK, True, C_ERR_POOR, 10, "<i>Fe</i>-poor", legend_name is not None)
    pts(rd, "triangle-up", C_RICH_DARK, True, C_ERR_RICH, 11, "<i>Fe</i>-rich", legend_name is not None)

    th = np.linspace(start, 720, 500)
    for fit, under, over in [(fitp, "#8B4A0B", "#EE8A12"), (fitr, "#0B5F86", "#1FA0D8")]:
        c, a, pk = fit
        yv = c + a * np.cos(np.radians(th - pk))
        fig.add_trace(go.Scatter(x=th, y=yv, mode="lines", xaxis=xa, yaxis=ya, showlegend=False,
                                 hoverinfo="skip", line=dict(color=under, width=3.6)))
        fig.add_trace(go.Scatter(x=th, y=yv, mode="lines", xaxis=xa, yaxis=ya, showlegend=False,
                                 hoverinfo="skip", line=dict(color=over, width=1.6)))
    # invisible trace to activate the secondary axis
    fig.add_trace(go.Scatter(x=[360], y=[0], mode="markers", xaxis=xa, yaxis=ya2, showlegend=False,
                             hoverinfo="skip", marker=dict(size=1, opacity=0)))
    fig.add_shape(type="line", xref=xa + " domain", yref=ya, x0=0, x1=1, y0=0, y1=0, layer="below",
                  line=dict(color="black", width=1.5, dash="6px,4px"))


add_pm_panel("x3", "y3", "y7", (wd_pd_t, wd_pd_v, wd_pd_e), (wd_pl_t, wd_pl_v, wd_pl_e),
             (wd_rd_t, wd_rd_v, wd_rd_e), (wd_rl_t, wd_rl_v, wd_rl_e), wd_fit_poor, wd_fit_rich, fit_start[0], "legend")
add_pm_panel("x4", "y4", "y8", (wa_pd_t, wa_pd_v, wa_pd_e), (wa_pl_t, wa_pl_v, wa_pl_e),
             (wa_rd_t, wa_rd_v, wa_rd_e), (wa_rl_t, wa_rl_v, wa_rl_e), wa_fit_poor, wa_fit_rich, fit_start[1])
add_pm_panel("x5", "y5", "y9", (md_pd_t, md_pd_v, md_pd_e), (md_pl_t, md_pl_v, md_pl_e),
             (md_rd_t, md_rd_v, md_rd_e), (md_rl_t, md_rl_v, md_rl_e), md_fit_poor, md_fit_rich, fit_start[2], "legend2")
add_pm_panel("x6", "y6", "y10", (ma_pd_t, ma_pd_v, ma_pd_e), (ma_pl_t, ma_pl_v, ma_pl_e),
             (ma_rd_t, ma_rd_v, ma_rd_e), (ma_rl_t, ma_rl_v, ma_rl_e), ma_fit_poor, ma_fit_rich, fit_start[3])

# ---------------- axes ----------------
TICKFONT = dict(family=SANS, size=16, color="black")


def axis(domain, rng, dtick, minor, anchor, labels=True, mirror="allticks", fmt=None, **kw):
    d = dict(domain=domain, range=rng, dtick=dtick, tick0=0, anchor=anchor, showline=True, linecolor="black",
             linewidth=1.4, mirror=mirror, ticks="inside", ticklen=7, tickwidth=1.2, tickcolor="black",
             showgrid=False, zeroline=False, showticklabels=labels, tickfont=TICKFONT, automargin=False,
             minor=dict(dtick=minor, tick0=0, ticks="inside", ticklen=3.5, tickwidth=1, tickcolor="black",
                        showgrid=False))
    if fmt:
        d["tickformat"] = fmt
    d.update(kw)
    return d


def xdom(a, b):
    return [a / W, b / W]


def ydom(top, bottom):
    return [1 - bottom / H, 1 - top / H]


WC_PM = 0.445
WC_KMS = 0.445 * 24.62
M22_PM = 0.386
M22_KMS = 0.386 * 15.17

layout_axes = dict(
    xaxis=axis(xdom(90, 626), [-24.9, 24.9], 5, 1, "y"),
    yaxis=axis(ydom(4, 524), [-24.9, 24.9], 5, 1, "x"),
    xaxis2=axis(xdom(810, 1346), [-6.93, 6.93], 3, 1, "y2"),
    yaxis2=axis(ydom(4, 524), [-6.9, 6.9], 3, 1, "x2"),
    xaxis3=axis(xdom(90, 614), [0, 720], 90, 30, "y3", labels=False),
    yaxis3=axis(ydom(612, 896), [-WC_PM, WC_PM], 0.2, 0.05, "x3", mirror=False, fmt=".1f"),
    xaxis4=axis(xdom(90, 614), [0, 720], 90, 30, "y4"),
    yaxis4=axis(ydom(896, 1182), [-WC_PM, WC_PM], 0.2, 0.05, "x4", mirror=False, fmt=".1f"),
    xaxis5=axis(xdom(810, 1334), [0, 720], 90, 30, "y5", labels=False),
    yaxis5=axis(ydom(612, 896), [-M22_PM, M22_PM], 0.2, 0.05, "x5", mirror=False, fmt=".1f"),
    xaxis6=axis(xdom(810, 1334), [0, 720], 90, 30, "y6"),
    yaxis6=axis(ydom(896, 1182), [-M22_PM, M22_PM], 0.2, 0.05, "x6", mirror=False, fmt=".1f"),
    yaxis7=axis(ydom(612, 896), [-WC_KMS, WC_KMS], 5, 1, "x3", mirror=False, overlaying="y3", side="right"),
    yaxis8=axis(ydom(896, 1182), [-WC_KMS, WC_KMS], 5, 1, "x4", mirror=False, overlaying="y4", side="right"),
    yaxis9=axis(ydom(612, 896), [-M22_KMS, M22_KMS], 5, 1, "x5", mirror=False, overlaying="y5", side="right"),
    yaxis10=axis(ydom(896, 1182), [-M22_KMS, M22_KMS], 5, 1, "x6", mirror=False, overlaying="y6", side="right"),
)

# ---------------- text ----------------
ann = []


def txt(x, y, s, size, color="black", angle=0, family=SERIF, **kw):
    d = dict(x=x / W, y=py(y), xref="paper", yref="paper", text=s, showarrow=False, textangle=angle,
             font=dict(family=family, size=size, color=color), xanchor="center", yanchor="middle")
    d.update(kw)
    ann.append(d)


TITLE = 21
# axis titles
txt(357, 561, "Δ<i>RA</i> [arcmin]", TITLE)
txt(1078, 561, "Δ<i>RA</i> [arcmin]", TITLE)
txt(34, 264, "Δ<i>DEC</i> [arcmin]", TITLE, angle=-90)
txt(768, 264, "Δ<i>DEC</i> [arcmin]", TITLE, angle=-90)
txt(352, 1222, "<i>θ</i> [deg]", TITLE)
txt(1072, 1222, "<i>θ</i> [deg]", TITLE)
for xl, xr in [(20, 673), (741, 1389)]:
    txt(xl, 753, "Δ<i>μ</i><sub><i>δ</i></sub> [mas/yr]", TITLE, angle=-90)
    txt(xl, 1039, "Δ<i>μ</i><sub><i>α</i></sub><i>cosδ</i> [mas/yr]", TITLE, angle=-90)
    txt(xr, 753, "Δ<i>V</i><sub><i>δ</i></sub> [km/s]", TITLE, angle=-90)
    txt(xr, 1039, "Δ<i>V</i><sub><i>α</i></sub> [km/s]", TITLE, angle=-90)

# cluster names
txt(179, 35, "<b><i>ω</i> Cen</b>", 27, color="#606060")
txt(902, 35, "<b>M 22</b>", 27, color="#606060")
for cx, name in [(152, "<b><i>ω</i> Cen</b>"), (874, "<b>M 22</b>")]:
    txt(cx + 1.5, 640, name, 34, color="#bdbdbd")
    txt(cx, 638, name, 34, color="#666666")

# theta labels
G = "#0b6b0b"
TS = 21
txt(355, 34, "<b><i>θ</i> = 90°</b>", TS, color=G)
txt(370, 502, "<b><i>θ</i> = 270°</b>", TS, color=G)
txt(117, 250, "<b><i>θ</i> = 180°</b>", TS, color=G, angle=-90)
txt(598, 250, "<b><i>θ</i> = 0°</b>", TS, color=G, angle=-90)
txt(1077, 34, "<b><i>θ</i> = 90°</b>", TS, color=G)
txt(1093, 502, "<b><i>θ</i> = 270°</b>", TS, color=G)
txt(838, 256, "<b><i>θ</i> = 180°</b>", TS, color=G, angle=-90)
txt(1320, 250, "<b><i>θ</i> = 0°</b>", TS, color=G, angle=-90)

# r^2 boxes
for (bx, by), (rp, rr) in zip([(104, 871), (104, 1157), (824, 871), (824, 1157)], r2_values):
    s = ("<i>r</i><sup>2</sup><sub><i>Fe − p</i></sub> = %.2f ,  <i>r</i><sup>2</sup><sub><i>Fe − r</i></sub> = %.2f"
         % (rp, rr))
    txt(bx, by, s, 14, xanchor="left", bordercolor="#aaaaaa", borderwidth=1, borderpad=3, bgcolor="white")

LEG = dict(xanchor="left", yanchor="top", orientation="h", bgcolor="white", bordercolor="#777777", borderwidth=1,
           font=dict(family=SERIF, size=16, color="black"), entrywidth=78, itemwidth=30)

fig.update_layout(
    width=W, height=H, margin=dict(l=0, r=0, t=0, b=0), autosize=False,
    paper_bgcolor="white", plot_bgcolor="white",
    annotations=fig.layout.annotations + tuple(ann),
    legend=dict(x=355 / W, y=py(619), **LEG),
    legend2=dict(x=1077 / W, y=py(619), **LEG),
    **layout_axes,
)

fig.write_html("out.html")
